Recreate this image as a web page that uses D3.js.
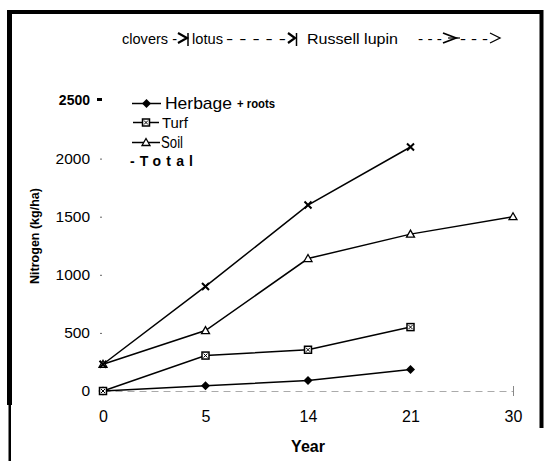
<!DOCTYPE html>
<html><head><meta charset="utf-8">
<script src="https://cdn.jsdelivr.net/npm/d3@7"></script>
<style>html,body{margin:0;padding:0;background:#fff;overflow:hidden}svg{display:block;font-family:"Liberation Sans",Arial,sans-serif}</style>
</head><body><svg id="c" width="549" height="461" viewBox="0 0 549 461"></svg>
<script>
const years = ["0","5","14","21","30"];
const herbage = [0,45,90,185,null];
const turf = [0,305,355,550,null];
const soil = [230,520,1140,1350,1500];
const total = [230,900,1600,2100,null];
const yTicks = [0,500,1000,1500,2000,2500];

const svg = d3.select("#c");
const x = d3.scalePoint().domain(years).range([103,513]);
const y = d3.scaleLinear().domain([0,2500]).range([391,100.5]);

// frame
const frame = svg.append("g").attr("class","frame");
frame.append("rect").attr("x",7).attr("y",10).attr("width",536).attr("height",4).attr("fill","#000");
frame.append("rect").attr("x",539.5).attr("y",10).attr("width",4).attr("height",418).attr("fill","#000");
frame.append("rect").attr("x",7).attr("y",10).attr("width",5).attr("height",395).attr("fill","#000");
frame.append("rect").attr("x",8.5).attr("y",405).attr("width",2.5).attr("height",56).attr("fill","#000");

// x axis dashed faint
const xa = svg.append("g").attr("transform","translate(0,391)")
  .call(d3.axisBottom(x).tickSize(0).tickPadding(20));
xa.select(".domain").attr("stroke","#aaa").attr("stroke-dasharray","7,5").attr("stroke-width",1);
xa.selectAll("text").attr("font-size",16).attr("fill","#000").attr("font-family","Liberation Sans, Arial");
svg.append("line").attr("x1",513.5).attr("x2",513.5).attr("y1",386).attr("y2",396).attr("stroke","#888");

// y axis
const ya = svg.append("g").attr("transform","translate(103,0)")
  .call(d3.axisLeft(y).tickValues(yTicks).tickSize(0).tickPadding(13).tickFormat(d3.format("d")));
ya.select(".domain").remove();
ya.selectAll("text").attr("fill","#000").attr("font-family","Liberation Sans, Arial")
  .attr("font-weight",d=>d===2500?"bold":"normal").attr("font-size",d=>d===2500?14:15.5);
ya.selectAll(".tick").filter(d=>d>0&&d<2500).append("line").attr("x1",-3).attr("x2",-1).attr("stroke","#666");
ya.selectAll(".tick").filter(d=>d===2500).append("rect").attr("x",-6).attr("y",-3).attr("width",5).attr("height",3).attr("fill","#000");

// titles
svg.append("text").attr("transform","translate(39,236) rotate(-90)").attr("text-anchor","middle")
  .attr("font-size",12.5).attr("font-weight","bold").text("Nitrogen (kg/ha)");
svg.append("text").attr("x",308).attr("y",452).attr("text-anchor","middle")
  .attr("font-size",16).attr("font-weight","bold").text("Year");

// lines
const series = [
  {name:"Herbage", vals:herbage, sym:"diamond"},
  {name:"Turf", vals:turf, sym:"square"},
  {name:"Soil", vals:soil, sym:"triangle"},
  {name:"Total", vals:total, sym:"x"}
];
const line = d3.line().defined(d=>d.v!=null).x(d=>x(d.k)).y(d=>y(d.v));
function marker(g, sym, cx, cy){
  if(sym==="diamond"){
    g.append("path").attr("d",`M${cx},${cy-4.5}L${cx+4.5},${cy}L${cx},${cy+4.5}L${cx-4.5},${cy}Z`).attr("fill","#000");
  } else if(sym==="square"){
    g.append("rect").attr("x",cx-3.5).attr("y",cy-3.5).attr("width",7).attr("height",7).attr("fill","#fff").attr("stroke","#000").attr("stroke-width",1.5);
    g.append("path").attr("d",`M${cx-2},${cy-2}L${cx+2},${cy+2}M${cx+2},${cy-2}L${cx-2},${cy+2}`).attr("stroke","#000").attr("stroke-width",1);
  } else if(sym==="triangle"){
    g.append("path").attr("d",`M${cx},${cy-4}L${cx+4},${cy+3}L${cx-4},${cy+3}Z`).attr("fill","#fff").attr("stroke","#000").attr("stroke-width",1.3);
  } else {
    g.append("path").attr("d",`M${cx-3.5},${cy-3.5}L${cx+3.5},${cy+3.5}M${cx+3.5},${cy-3.5}L${cx-3.5},${cy+3.5}`).attr("stroke","#000").attr("stroke-width",2);
  }
}
series.forEach(s=>{
  const data = years.map((k,i)=>({k, v:s.vals[i]}));
  svg.append("path").datum(data).attr("d",line).attr("fill","none").attr("stroke","#000").attr("stroke-width",1.5);
  const g = svg.append("g");
  data.filter(d=>d.v!=null).forEach(d=>marker(g,s.sym,x(d.k),y(d.v)));
});

// legend
const lg = svg.append("g");
const legRows = [
  {sym:"diamond", y:103.5, x1:132, x2:161},
  {sym:"square", y:122.5, x1:133, x2:159},
  {sym:"triangle", y:142.5, x1:132, x2:160}
];
legRows.forEach(r=>{
  lg.append("line").attr("x1",r.x1).attr("x2",r.x2).attr("y1",r.y).attr("y2",r.y).attr("stroke","#000").attr("stroke-width",1.5);
  marker(lg,r.sym,(r.x1+r.x2)/2,r.y);
});
lg.append("text").attr("x",165).attr("y",109).attr("font-size",17).attr("textLength",67).attr("lengthAdjust","spacingAndGlyphs").text("Herbage");
lg.append("text").attr("x",237).attr("y",108).attr("font-size",12).attr("font-weight","bold").attr("textLength",38).attr("lengthAdjust","spacingAndGlyphs").text("+ roots");
lg.append("text").attr("x",162).attr("y",128).attr("font-size",15).attr("textLength",26).attr("lengthAdjust","spacingAndGlyphs").text("Turf");
lg.append("text").attr("x",161).attr("y",148).attr("font-size",16).attr("textLength",22).attr("lengthAdjust","spacingAndGlyphs").text("Soil");
lg.append("text").attr("x",130).attr("y",166).attr("font-size",14).attr("font-weight","bold").attr("textLength",63).attr("lengthAdjust","spacing").text("-Total");

// top annotation
const ann = svg.append("g").attr("font-size",15.5);
function txt(x0, w, s){
  ann.append("text").attr("x",x0).attr("y",44).attr("textLength",w).attr("lengthAdjust","spacingAndGlyphs").text(s);
}
txt(122,55,"clovers -");
txt(192,31,"lotus");
txt(226,60,"- - - - -");
txt(307,91,"Russell lupin");
txt(418,24,"- - -");
txt(460,28,"- - -");
function chev(x0, x1, w){
  ann.append("path").attr("d",`M${x0},33L${x1},38L${x0},43`).attr("fill","none").attr("stroke","#000").attr("stroke-width",w);
}
chev(178,187,2.2);
ann.append("line").attr("x1",188).attr("x2",188).attr("y1",33).attr("y2",46).attr("stroke","#000").attr("stroke-width",1.5);
chev(288,295,2.2);
ann.append("line").attr("x1",296.5).attr("x2",296.5).attr("y1",33).attr("y2",46).attr("stroke","#000").attr("stroke-width",1.5);
chev(443,456,1.8);
ann.append("line").attr("x1",448).attr("x2",460).attr("y1",38).attr("y2",38).attr("stroke","#000").attr("stroke-width",1.2);
chev(490,500,1.3);
</script></body></html>
